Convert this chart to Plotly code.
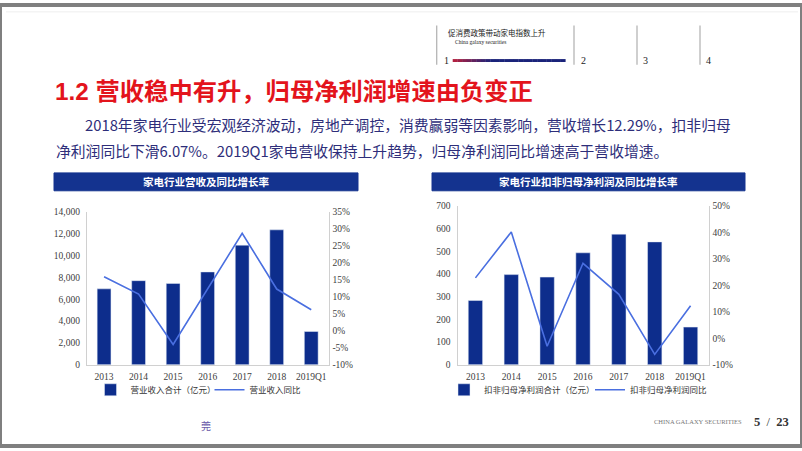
import plotly.graph_objects as go

# ---------------- data ----------------
categories = ["2013", "2014", "2015", "2016", "2017", "2018", "2019Q1"]
revenue = [6950, 7700, 7450, 8500, 10950, 12350, 3050]          # 亿元
revenue_yoy = [15.9, 10.8, -4.0, 12.4, 28.7, 12.29, 6.2]        # %
profit = [283, 397, 386, 493, 575, 541, 166]                     # 亿元
profit_yoy = [22.8, 40.1, -3.0, 28.3, 16.6, -6.07, 12.3]         # %

rev_ticks = [0, 2000, 4000, 6000, 8000, 10000, 12000, 14000]
rev_ticklabels = ["0", "2,000", "4,000", "6,000", "8,000", "10,000", "12,000", "14,000"]
rev_pct_ticks = [-10, -5, 0, 5, 10, 15, 20, 25, 30, 35]
rev_pct_labels = ["-10%", "-5%", "0%", "5%", "10%", "15%", "20%", "25%", "30%", "35%"]
pro_ticks = [0, 100, 200, 300, 400, 500, 600, 700]
pro_ticklabels = ["0", "100", "200", "300", "400", "500", "600", "700"]
pro_pct_ticks = [-10, 0, 10, 20, 30, 40, 50]
pro_pct_labels = ["-10%", "0%", "10%", "20%", "30%", "40%", "50%"]

title_main = "1.2 营收稳中有升，归母净利润增速由负变正"
body_line1 = "2018年家电行业受宏观经济波动，房地产调控，消费赢弱等因素影响，营收增长12.29%，扣非归母"
body_line2 = "净利润同比下滑6.07%。2019Q1家电营收保持上升趋势，归母净利润同比增速高于营收增速。"
chart1_title = "家电行业营收及同比增长率"
chart2_title = "家电行业扣非归母净利润及同比增长率"

# ---------------- style ----------------
W, H = 802, 451
BAR = "#0d2d8c"
LINE = "#4a6fe0"
NAVY = "#14338f"
SERIF = "Liberation Serif, Noto Sans CJK SC, serif"
CJK = "Noto Sans CJK SC, sans-serif"
TICKC = "#404040"
AXC = "#d0d0d0"

def px(x):
    return x / W

def py(y):
    return 1 - y / H

fig = go.Figure()

fig.add_trace(go.Bar(x=categories, y=revenue, name="营业收入合计（亿元）",
                     marker_color=BAR, xaxis="x", yaxis="y", legend="legend"))
fig.add_trace(go.Scatter(x=categories, y=revenue_yoy, name="营业收入同比", mode="lines",
                         line=dict(color=LINE, width=1.6), xaxis="x", yaxis="y2", legend="legend"))
fig.add_trace(go.Bar(x=categories, y=profit, name="扣非归母净利润合计（亿元）",
                     marker_color=BAR, xaxis="x2", yaxis="y3", legend="legend2"))
fig.add_trace(go.Scatter(x=categories, y=profit_yoy, name="扣非归母净利润同比", mode="lines",
                         line=dict(color=LINE, width=1.6), xaxis="x2", yaxis="y4", legend="legend2"))

tickfont = dict(family=SERIF, size=9.5, color=TICKC)

def xaxis(dom, anchor):
    return dict(domain=dom, anchor=anchor, showline=True, linecolor=AXC, linewidth=1,
                showgrid=False, ticks="", tickfont=tickfont, zeroline=False, fixedrange=True,
                ticklabelstandoff=3)

def yaxis(dom, anchor, rng, tv, tt, side="left", overlay=None):
    d = dict(domain=dom, anchor=anchor, range=rng, tickvals=tv, ticktext=tt, side=side,
             showline=True, linecolor=AXC, linewidth=1, showgrid=False, zeroline=False,
             ticks="", tickfont=tickfont, ticklabelstandoff=4 if side == "left" else 1)
    if overlay:
        d["overlaying"] = overlay
    return d

x1dom = [px(86.8), px(328.5)]
y1dom = [py(368), py(211.5)]
x2dom = [px(457.5), px(708.5)]
y2dom = [py(368), py(205.3)]

legfont = dict(family=CJK, size=8.5, color="#333333")

fig.update_layout(
    width=W, height=H,
    margin=dict(l=0, r=0, t=0, b=0),
    paper_bgcolor="white", plot_bgcolor="rgba(0,0,0,0)",
    bargap=0.6,
    showlegend=True,
    xaxis=xaxis(x1dom, "y"),
    yaxis=yaxis(y1dom, "x", [0, 14000], rev_ticks, rev_ticklabels),
    yaxis2=yaxis(y1dom, "x", [-10, 35], rev_pct_ticks, rev_pct_labels, side="right", overlay="y"),
    xaxis2=xaxis(x2dom, "y3"),
    yaxis3=yaxis(y2dom, "x2", [0, 700], pro_ticks, pro_ticklabels),
    yaxis4=yaxis(y2dom, "x2", [-10, 50], pro_pct_ticks, pro_pct_labels, side="right", overlay="y3"),
    legend=dict(orientation="h", x=px(90.5), y=py(393.5), xanchor="left", yanchor="middle",
                font=legfont, bgcolor="rgba(0,0,0,0)", itemwidth=30, tracegroupgap=0,
                entrywidth=74, entrywidthmode="pixels"),
    legend2=dict(orientation="h", x=px(444), y=py(393.5), xanchor="left", yanchor="middle",
                 font=legfont, bgcolor="rgba(0,0,0,0)", itemwidth=30, tracegroupgap=0,
                 entrywidth=101, entrywidthmode="pixels"),
)

shapes = []
annotations = []

# outer frame
shapes.append(dict(type="rect", xref="paper", yref="paper", x0=0, x1=1, y0=0, y1=1,
                   line=dict(color="#7f7f7f", width=4), fillcolor="rgba(0,0,0,0)"))
# faint top line
shapes.append(dict(type="line", xref="paper", yref="paper", x0=px(6), x1=px(798), y0=py(7), y1=py(7),
                   line=dict(color="#eeeeee", width=1)))

# header separators
for xv in [436.7, 574, 637, 700]:
    shapes.append(dict(type="line", xref="paper", yref="paper", x0=px(xv), x1=px(xv),
                       y0=py(21), y1=py(61), line=dict(color="#b5b5b5", width=1.3)))
# gradient progress bar
n = 24
x_start, x_end = 452.7, 565.3
for i in range(n):
    t = min(1, (i / (n - 1)) * 3)
    r = int(0xb0 * (1 - t) + 0x1a * t)
    g = int(0x20 * (1 - t) + 0x23 * t)
    b = int(0x40 * (1 - t) + 0x7a * t)
    xa = x_start + (x_end - x_start) * i / n
    xb = x_start + (x_end - x_start) * (i + 1) / n + 0.3
    shapes.append(dict(type="rect", xref="paper", yref="paper", x0=px(xa), x1=px(xb),
                       y0=py(58.3), y1=py(55.3), line=dict(width=0),
                       fillcolor=f"rgb({r},{g},{b})"))

annotations += [
    dict(text="促消费政策带动家电指数上升", x=px(446), y=py(27.7), xanchor="left", yanchor="middle",
         font=dict(family=CJK, size=7.5, color="#222222")),
    dict(text="China galaxy securities", x=px(453), y=py(37.7), xanchor="left", yanchor="middle",
         font=dict(family=SERIF, size=5.5, color="#222222")),
    dict(text="1", x=px(441.5), y=py(56.5), xanchor="left", yanchor="middle",
         font=dict(family=SERIF, size=10, color="#222222")),
    dict(text="2", x=px(579), y=py(56.5), xanchor="left", yanchor="middle",
         font=dict(family=SERIF, size=10, color="#222222")),
    dict(text="3", x=px(641), y=py(56.5), xanchor="left", yanchor="middle",
         font=dict(family=SERIF, size=10, color="#222222")),
    dict(text="4", x=px(704), y=py(56.5), xanchor="left", yanchor="middle",
         font=dict(family=SERIF, size=10, color="#222222")),
]

# main title and body
annotations += [
    dict(text="<b>" + title_main + "</b>", x=px(53), y=py(88.5), xanchor="left", yanchor="middle",
         font=dict(family="Liberation Sans, Noto Sans CJK SC, sans-serif", size=24.3, color="#e3141c")),
    dict(text=body_line1, x=px(82.5), y=py(121.7), xanchor="left", yanchor="middle",
         font=dict(family=CJK, size=14.8, color="#2e2e7a")),
    dict(text=body_line2, x=px(53.5), y=py(149), xanchor="left", yanchor="middle",
         font=dict(family=CJK, size=14.8, color="#2e2e7a")),
]

# chart title bars
for (x0, x1, txt) in [(54, 358, chart1_title), (432, 745, chart2_title)]:
    shapes.append(dict(type="rect", xref="paper", yref="paper", x0=px(x0), x1=px(x1),
                       y0=py(190), y1=py(171.7), line=dict(color=NAVY, width=1), fillcolor=NAVY))
    annotations.append(dict(text="<b>" + txt + "</b>", x=px((x0 + x1) / 2), y=py(181),
                            xanchor="center", yanchor="middle",
                            font=dict(family=CJK, size=10.5, color="white")))

# footer
annotations += [
    dict(text="莞", x=px(206), y=py(430), xanchor="center", yanchor="middle",
         font=dict(family=CJK, size=10, color="#6a5aa8")),
    dict(text="CHINA GALAXY SECURITIES", x=px(651.5), y=py(426), xanchor="left", yanchor="middle",
         font=dict(family=SERIF, size=6.5, color="#777777")),
    dict(text="<b>5</b>  /  <b>23</b>", x=px(752), y=py(426), xanchor="left", yanchor="middle",
         font=dict(family=SERIF, size=12.5, color="#333333")),
]

for a in annotations:
    a.update(xref="paper", yref="paper", showarrow=False)

fig.update_layout(shapes=shapes, annotations=annotations)

fig.write_html("out.html")
